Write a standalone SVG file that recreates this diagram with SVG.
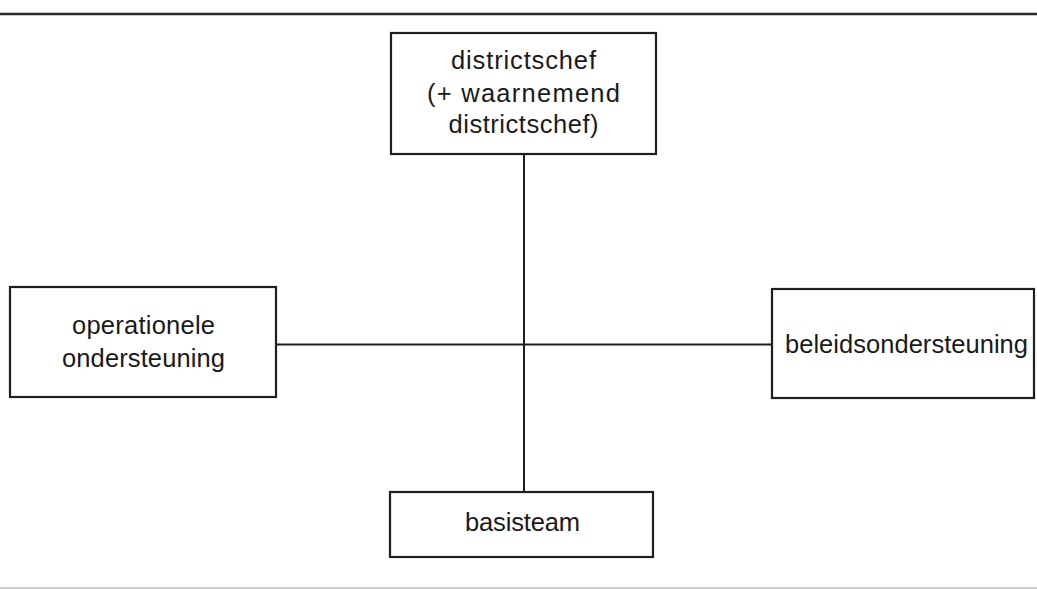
<svg xmlns="http://www.w3.org/2000/svg" width="1037" height="589" viewBox="0 0 1037 589">
  <style>
    .box { fill: #ffffff; stroke: #1e1e1e; stroke-width: 2.2; }
    .link { stroke: #1e1e1e; stroke-width: 2; fill: none; }
    .rule { stroke: #2a2a2a; stroke-width: 2.4; }
    .rule-faint { stroke: #9a9a9a; stroke-width: 1.2; }
    text { font-family: "Liberation Sans", Arial, sans-serif; font-size: 25.5px; fill: #1a1a1a; text-anchor: middle; }
  </style>
  <rect width="1037" height="589" fill="#ffffff"/>

  <!-- page rules -->
  <line class="rule" x1="0" y1="14" x2="1037" y2="14"/>
  <line class="rule-faint" x1="0" y1="588" x2="1037" y2="588"/>

  <!-- connectors: one vertical and one horizontal line crossing -->
  <g id="connectors">
    <line class="link" x1="524" y1="154" x2="524" y2="492"/>
    <line class="link" x1="276" y1="344.5" x2="772" y2="344.5"/>
  </g>

  <g id="districtschef">
    <rect class="box" x="391" y="33" width="265" height="121"/>
    <text x="523.5" y="69" textLength="145">districtschef</text>
    <text x="523.5" y="101.5" textLength="193">(+ waarnemend</text>
    <text x="523.5" y="133" textLength="150">districtschef)</text>
  </g>

  <g id="operationele-ondersteuning">
    <rect class="box" x="10" y="287" width="266" height="110"/>
    <text x="143.5" y="334" textLength="143">operationele</text>
    <text x="143.5" y="366.5" textLength="163">ondersteuning</text>
  </g>

  <g id="beleidsondersteuning">
    <rect class="box" x="772" y="289" width="262" height="109"/>
    <text x="906.5" y="353" textLength="243">beleidsondersteuning</text>
  </g>

  <g id="basisteam">
    <rect class="box" x="390" y="492" width="263" height="65"/>
    <text x="522.5" y="531" textLength="115">basisteam</text>
  </g>
</svg>
